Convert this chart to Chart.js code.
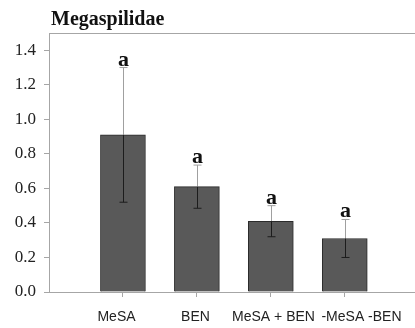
<!DOCTYPE html>
<html>
<head>
<meta charset="utf-8">
<script src="https://cdn.jsdelivr.net/npm/chart.js@4.4.1/dist/chart.umd.min.js"></script>
<style>
  html, body { margin: 0; padding: 0; background: #fff; }
  #wrap { width: 415px; height: 328px; position: relative; }
</style>
</head>
<body>
<div id="wrap"><canvas id="grafico"></canvas></div>
<script>
// ==================== DATOS ====================
var titulo = 'Megaspilidae';
var categorias = ['MeSA', 'BEN', 'MeSA + BEN', '-MeSA -BEN'];
var medias = [0.91, 0.61, 0.41, 0.31];
var errores = [0.39, 0.125, 0.09, 0.11];
var letras = ['a', 'a', 'a', 'a'];
var ticksY = [0, 0.2, 0.4, 0.6, 0.8, 1.0, 1.2, 1.4];

var SERIF = '"Liberation Serif", "Times New Roman", serif';
var SANS = '"Liberation Sans", Arial, sans-serif';

// desplazamiento horizontal de las etiquetas (como en el original, no centradas)
var DESPLAZ_ETIQ = [-7, -2, 2, 16];

// ==================== PLUGINS ====================
// Barras de error, letras, etiquetas y marco superior
var extras = {
  id: 'extras',
  afterDatasetsDraw: function (chart) {
    var ctx = chart.ctx, xs = chart.scales.x, ys = chart.scales.y, area = chart.chartArea;
    ctx.save();

    // línea superior del marco
    ctx.strokeStyle = '#a6a6a6';
    ctx.lineWidth = 1;
    ctx.beginPath();
    ctx.moveTo(area.left, area.top + 0.5);
    ctx.lineTo(area.right, area.top + 0.5);
    ctx.stroke();

    medias.forEach(function (m, i) {
      var x = Math.round(xs.getPixelForValue(i + 1)) + 0.5;
      var yTop = ys.getPixelForValue(m + errores[i]);
      var yBot = ys.getPixelForValue(m - errores[i]);
      var yBar = ys.getPixelForValue(m);
      var cap = 4;

      // parte sobre la barra (gris claro)
      ctx.strokeStyle = '#a0a0a0';
      ctx.beginPath();
      ctx.moveTo(x, yTop); ctx.lineTo(x, yBar);
      ctx.moveTo(x - cap, yTop); ctx.lineTo(x + cap, yTop);
      ctx.stroke();

      // parte dentro de la barra (oscura)
      ctx.strokeStyle = '#1c1c1c';
      ctx.beginPath();
      ctx.moveTo(x, yBar); ctx.lineTo(x, yBot);
      ctx.moveTo(x - cap, yBot); ctx.lineTo(x + cap, yBot);
      ctx.stroke();

      // letra de significancia
      ctx.fillStyle = '#111';
      ctx.font = 'bold 22px ' + SERIF;
      ctx.textAlign = 'center';
      ctx.textBaseline = 'alphabetic';
      ctx.fillText(letras[i], x, yTop - 2);

      // etiqueta de categoría
      ctx.fillStyle = '#222';
      ctx.font = '14px ' + SANS;
      ctx.fillText(categorias[i], x + DESPLAZ_ETIQ[i], area.bottom + 29);
    });

    // título
    ctx.fillStyle = '#111';
    ctx.font = 'bold 20px ' + SERIF;
    ctx.textAlign = 'left';
    ctx.fillText(titulo, area.left + 2, 25);

    ctx.restore();
  }
};

// ==================== CHART ====================
function init() {
  var ctx = document.getElementById('grafico').getContext('2d');
  new Chart(ctx, {
    type: 'bar',
    data: {
      datasets: [{
        data: medias.map(function (v, i) { return { x: i + 1, y: v }; }),
        backgroundColor: '#595959',
        borderColor: '#2b2b2b',
        borderWidth: 1,
        borderSkipped: 'bottom',
        barThickness: 45
      }]
    },
    options: {
      responsive: true,
      maintainAspectRatio: false,
      animation: false,
      layout: { padding: { top: 33, right: 0, bottom: 0, left: 0 } },
      plugins: {
        legend: { display: false },
        title: { display: false },
        tooltip: { enabled: false }
      },
      scales: {
        x: {
          type: 'linear',
          offset: false,
          min: 0,
          max: 4.95,
          afterBuildTicks: function (scale) {
            scale.ticks = categorias.map(function (c, i) { return { value: i + 1 }; });
          },
          afterFit: function (scale) { scale.height = 36; },
          ticks: {
            autoSkip: false,
            maxRotation: 0,
            minRotation: 0,
            padding: 8,
            callback: function () { return ''; }  // se dibujan en el plugin
          },
          grid: {
            offset: false,
            drawOnChartArea: false,
            drawTicks: true,
            tickLength: 5,
            color: '#a6a6a6'
          },
          border: { display: true, color: '#a6a6a6', width: 1 }
        },
        y: {
          min: 0,
          max: 1.5,
          afterBuildTicks: function (scale) {
            scale.ticks = ticksY.map(function (v) { return { value: v }; });
          },
          afterFit: function (scale) { scale.width = 49; },
          ticks: {
            padding: 8,
            color: '#222',
            font: { family: SERIF, size: 17 },
            callback: function (v) { return Number(v).toFixed(1); }
          },
          grid: {
            drawOnChartArea: false,
            drawTicks: true,
            tickLength: 5,
            color: '#a6a6a6'
          },
          border: { display: true, color: '#a6a6a6', width: 1 }
        }
      }
    },
    plugins: [extras]
  });
}

init();
</script>
</body>
</html>
